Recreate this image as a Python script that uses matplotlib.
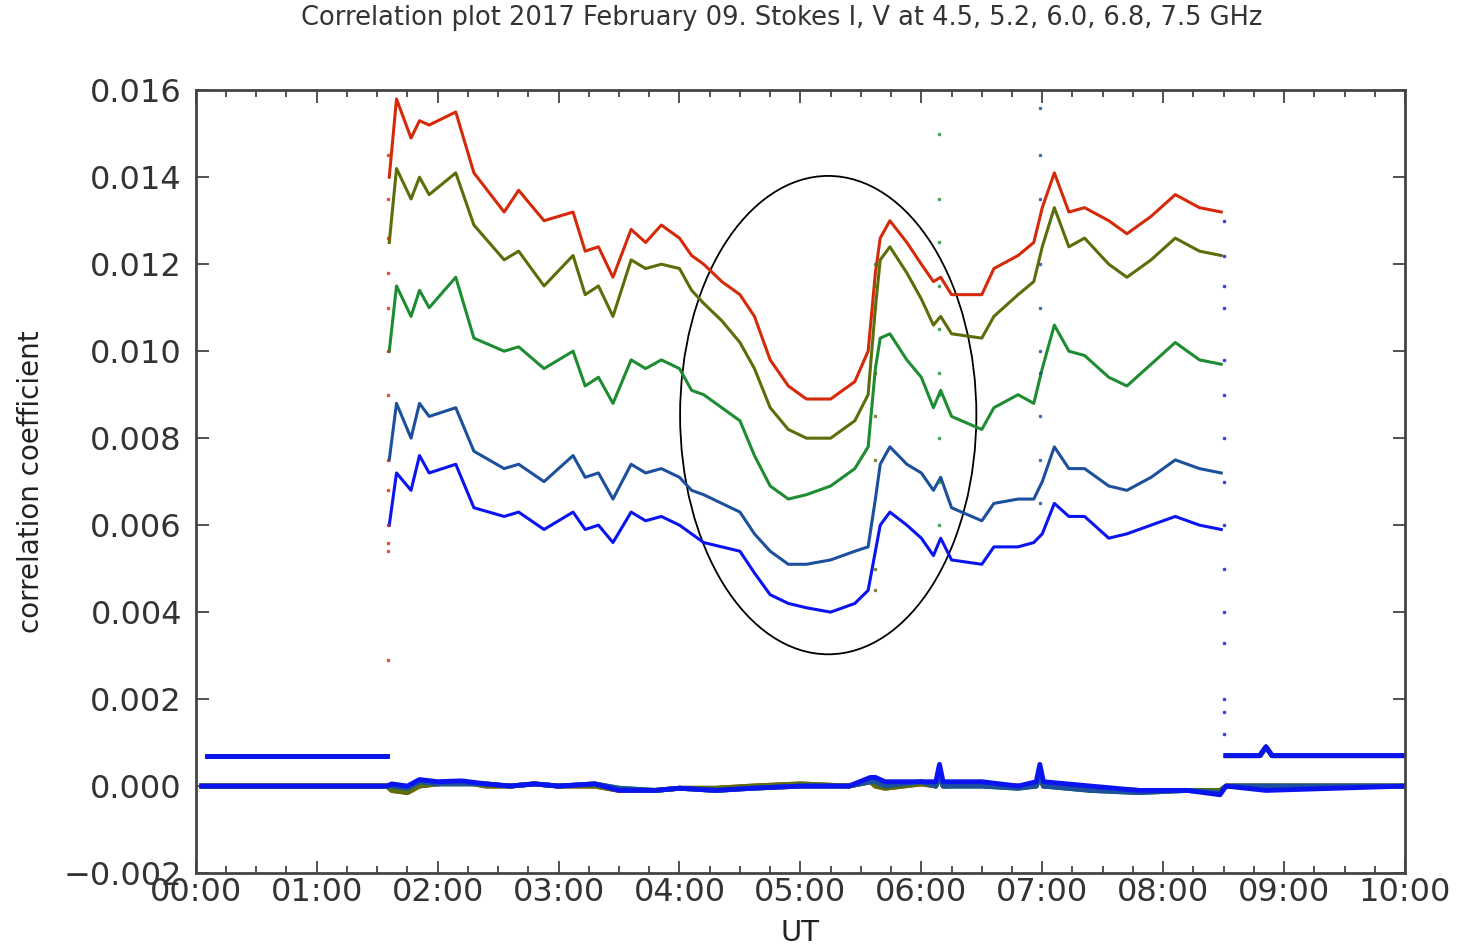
import matplotlib
matplotlib.use("Agg")
import matplotlib.pyplot as plt
from matplotlib.patches import Ellipse
from matplotlib.ticker import MultipleLocator, FuncFormatter

#------------ DATA (time in hours UT) -------------------
t_on = [1.60, 1.66, 1.78, 1.85, 1.93, 2.15, 2.30, 2.55, 2.67, 2.88, 3.12, 3.22, 3.33,
        3.45, 3.60, 3.72, 3.85, 4.00, 4.10, 4.20, 4.35, 4.50, 4.62, 4.75, 4.90, 5.05,
        5.25, 5.45, 5.56, 5.62, 5.66, 5.74, 5.88, 6.00, 6.10, 6.16, 6.25, 6.50, 6.60,
        6.80, 6.93, 7.00, 7.10, 7.22, 7.35, 7.55, 7.70, 7.90, 8.10, 8.30, 8.48]

i_45 = [0.0140, 0.0158, 0.0149, 0.0153, 0.0152, 0.0155, 0.0141, 0.0132, 0.0137, 0.0130,
        0.0132, 0.0123, 0.0124, 0.0117, 0.0128, 0.0125, 0.0129, 0.0126, 0.0122, 0.0120,
        0.0116, 0.0113, 0.0108, 0.0098, 0.0092, 0.0089, 0.0089, 0.0093, 0.0100, 0.0118,
        0.0126, 0.0130, 0.0125, 0.0120, 0.0116, 0.0117, 0.0113, 0.0113, 0.0119, 0.0122,
        0.0125, 0.0133, 0.0141, 0.0132, 0.0133, 0.0130, 0.0127, 0.0131, 0.0136, 0.0133, 0.0132]
i_52 = [0.0125, 0.0142, 0.0135, 0.0140, 0.0136, 0.0141, 0.0129, 0.0121, 0.0123, 0.0115,
        0.0122, 0.0113, 0.0115, 0.0108, 0.0121, 0.0119, 0.0120, 0.0119, 0.0114, 0.0111,
        0.0107, 0.0102, 0.0096, 0.0087, 0.0082, 0.0080, 0.0080, 0.0084, 0.0090, 0.0110,
        0.0121, 0.0124, 0.0118, 0.0112, 0.0106, 0.0108, 0.0104, 0.0103, 0.0108, 0.0113,
        0.0116, 0.0124, 0.0133, 0.0124, 0.0126, 0.0120, 0.0117, 0.0121, 0.0126, 0.0123, 0.0122]
i_60 = [0.0100, 0.0115, 0.0108, 0.0114, 0.0110, 0.0117, 0.0103, 0.0100, 0.0101, 0.0096,
        0.0100, 0.0092, 0.0094, 0.0088, 0.0098, 0.0096, 0.0098, 0.0096, 0.0091, 0.0090,
        0.0087, 0.0084, 0.0076, 0.0069, 0.0066, 0.0067, 0.0069, 0.0073, 0.0078, 0.0096,
        0.0103, 0.0104, 0.0098, 0.0094, 0.0087, 0.0091, 0.0085, 0.0082, 0.0087, 0.0090,
        0.0088, 0.0096, 0.0106, 0.0100, 0.0099, 0.0094, 0.0092, 0.0097, 0.0102, 0.0098, 0.0097]
i_68 = [0.0075, 0.0088, 0.0080, 0.0088, 0.0085, 0.0087, 0.0077, 0.0073, 0.0074, 0.0070,
        0.0076, 0.0071, 0.0072, 0.0066, 0.0074, 0.0072, 0.0073, 0.0071, 0.0068, 0.0067,
        0.0065, 0.0063, 0.0058, 0.0054, 0.0051, 0.0051, 0.0052, 0.0054, 0.0055, 0.0066,
        0.0074, 0.0078, 0.0074, 0.0072, 0.0068, 0.0071, 0.0064, 0.0061, 0.0065, 0.0066,
        0.0066, 0.0070, 0.0078, 0.0073, 0.0073, 0.0069, 0.0068, 0.0071, 0.0075, 0.0073, 0.0072]
i_75 = [0.0060, 0.0072, 0.0068, 0.0076, 0.0072, 0.0074, 0.0064, 0.0062, 0.0063, 0.0059,
        0.0063, 0.0059, 0.0060, 0.0056, 0.0063, 0.0061, 0.0062, 0.0060, 0.0058, 0.0056,
        0.0055, 0.0054, 0.0049, 0.0044, 0.0042, 0.0041, 0.0040, 0.0042, 0.0045, 0.0054,
        0.0060, 0.0063, 0.0060, 0.0057, 0.0053, 0.0057, 0.0052, 0.0051, 0.0055, 0.0055,
        0.0056, 0.0058, 0.0065, 0.0062, 0.0062, 0.0057, 0.0058, 0.0060, 0.0062, 0.0060, 0.0059]

# Stokes I before / after the observation (offset level)
t_pre = [0.09, 1.58]
i_pre = [0.0007, 0.0007]
t_post = [8.52, 8.80, 8.85, 8.90, 10.0]
i_post = [0.0007, 0.0007, 0.0009, 0.0007, 0.0007]

# Stokes V (near zero)
t_v = [0.05, 1.58, 1.62, 1.75, 1.85, 2.00, 2.20, 2.40, 2.60, 2.80, 3.00, 3.30, 3.50,
       3.80, 4.00, 4.30, 4.60, 5.00, 5.40, 5.58, 5.62, 5.70, 6.00, 6.12, 6.15, 6.18,
       6.50, 6.80, 6.95, 6.98, 7.01, 7.40, 7.80, 8.20, 8.47, 8.52, 8.85, 10.0]
v_45 = [0.0, 0.0, -0.0001, -0.00015, 0.0, 0.00005, 0.0001, 0.0, 0.0, 0.00005, 0.0, 0.0,
        -0.0001, -0.0001, -0.00005, -0.00005, 0.0, 0.00005, 0.0, 0.0001, 0.0, -0.00005,
        0.00005, 0.0, 0.0002, 0.0, 0.00005, 0.0, 0.0, 0.0002, 0.0, -0.00005, -0.0001,
        -0.0001, -0.0001, 0.0, 0.0, 0.0]
v_60 = [0.0, 0.0, 0.0, -0.00005, 0.0001, 0.00005, 0.00005, 0.00005, 0.0, 0.00005, 0.0,
        0.00005, -0.00005, -0.0001, -0.00005, -0.0001, -0.00005, 0.0, 0.0, 0.0001, 0.0001,
        0.0, 0.0001, 0.0, 0.0003, 0.0, 0.0, -0.00005, 0.0, 0.0003, 0.0, -0.0001, -0.00015,
        -0.0001, -0.00015, 0.0, 0.0, 0.0]
v_75 = [0.0, 0.0, 0.00005, 0.0, 0.00015, 0.0001, 0.00012, 0.00005, 0.0, 0.00005, 0.0,
        0.00005, -0.0001, -0.0001, -0.00005, -0.0001, -0.00005, 0.0, 0.0, 0.0002, 0.0002,
        0.0001, 0.0001, 0.0001, 0.0005, 0.0001, 0.0001, 0.0, 0.0001, 0.0005, 0.0001, 0.0,
        -0.0001, -0.0001, -0.0002, 0.0, -0.0001, 0.0]

# sparse points while the receiver switches
jump_t = [1.59, 5.62, 6.15, 6.98, 8.50]
jump_vals = [
    [0.0029, 0.0054, 0.0056, 0.0060, 0.0068, 0.0075, 0.0090, 0.0100, 0.0110, 0.0118, 0.0126, 0.0135, 0.0145],
    [0.0045, 0.0050, 0.0075, 0.0085, 0.0095, 0.0110, 0.0115, 0.0120],
    [0.0150, 0.0135, 0.0125, 0.0115, 0.0105, 0.0095, 0.0090, 0.0080, 0.0070, 0.0060],
    [0.0156, 0.0145, 0.0135, 0.0120, 0.0110, 0.0100, 0.0095, 0.0085, 0.0075, 0.0065],
    [0.0130, 0.0122, 0.0115, 0.0110, 0.0098, 0.0090, 0.0080, 0.0070, 0.0060, 0.0050,
     0.0040, 0.0033, 0.0020, 0.0017, 0.0012],
]

colors = ['#d42a0a', '#5a6e0a', '#1e8c32', '#1c4f9c', '#0a14f0']
stokes_i = [i_45, i_52, i_60, i_68, i_75]
stokes_v = [v_45, v_45, v_60, v_60, v_75]

#------------ PLOT -------------------
fig = plt.figure(figsize=(14.61, 9.5), dpi=100)
ax = fig.add_axes([0.134, 0.081, 0.8277, 0.824])

for c, vi, vv in zip(colors, stokes_i, stokes_v):
    ax.plot(t_on, vi, c=c, lw=2.2, solid_joinstyle='round')
    ax.plot(t_pre, i_pre, c=c, lw=3.5)
    ax.plot(t_post, i_post, c=c, lw=3.5)
    ax.plot(t_v, vv, c=c, lw=3.5)

for k, (tj, vals) in enumerate(zip(jump_t, jump_vals)):
    ax.plot([tj] * len(vals), vals, ls='none', marker='s', ms=1.6,
            c=colors[k % len(colors)], alpha=0.7)

ax.add_patch(Ellipse((5.23, 0.00853), 2.45, 0.011, fill=False, ec='black', lw=1.3))

ax.set_xlim(0, 10)
ax.set_ylim(-0.002, 0.016)
ax.xaxis.set_major_locator(MultipleLocator(1))
ax.xaxis.set_minor_locator(MultipleLocator(0.25))
ax.yaxis.set_major_locator(MultipleLocator(0.002))
ax.xaxis.set_major_formatter(FuncFormatter(lambda x, p: '%02d:00' % int(round(x))))
ax.yaxis.set_major_formatter(FuncFormatter(lambda y, p: ('%.3f' % y).replace('-', '\u2212')))
ax.tick_params(which='both', direction='in', top=True, right=True, colors='#333333',
               labelsize=23, width=1.2)
ax.tick_params(which='major', length=9)
ax.tick_params(axis='y', which='major', pad=10)
ax.tick_params(axis='x', which='major', pad=3)
ax.tick_params(which='minor', length=5)
for s in ax.spines.values():
    s.set_color('#444444')
    s.set_linewidth(2)

ax.set_xlabel('UT', fontsize=21, color='#222222', labelpad=8)
ax.set_ylabel('correlation coefficient', fontsize=20, color='#222222')
ax.yaxis.set_label_coords(-0.125, 0.5)
fig.suptitle('Correlation plot 2017 February 09. Stokes I, V at 4.5, 5.2, 6.0, 6.8, 7.5 GHz',
             fontsize=18.5, color='#333333', y=0.995, x=0.535)

fig.savefig('out.png', dpi=100)
